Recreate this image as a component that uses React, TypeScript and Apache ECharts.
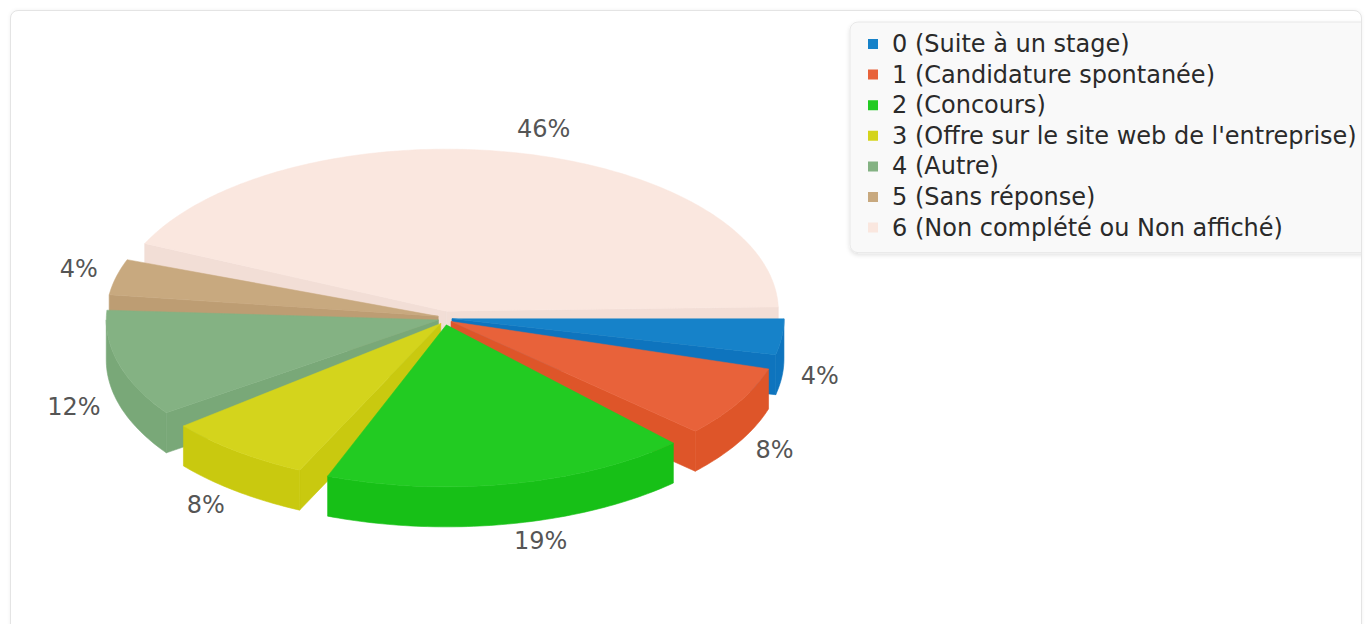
import React, { useEffect, useRef } from "react";
import * as echarts from "echarts";

// ---- data ----
const categories = [
  "0 (Suite à un stage)",
  "1 (Candidature spontanée)",
  "2 (Concours)",
  "3 (Offre sur le site web de l'entreprise)",
  "4 (Autre)",
  "5 (Sans réponse)",
  "6 (Non complété ou Non affiché)",
];
const counts = [1, 2, 5, 2, 3, 1, 12];
const topColors = ["#1682c9", "#e8623a", "#22cb22", "#d4d41c", "#84b283", "#c8a97f", "#fae7df"];
const sideColors = ["#0e74be", "#de5529", "#17c017", "#c9c90f", "#79a878", "#bd9d73", "#f2ded6"];

// ---- geometry (chart coordinates) ----
const CX = 434;
const CY = 307;
const RX = 332;
const RY = 162;
const DEPTH = 40;
const EXPLODE = 7;
const GAP = 4.2; // angular gap between slices
const END_GAP = 1.5; // gap between last and first slice
const START = 0;
const LR = 358; // label horizontal radius (text edge)
const LRY = 190;
const LD_FRONT = 37;
const LD_BACK = -3;
const RAD = Math.PI / 180;

const total = counts.reduce((a, b) => a + b, 0);
const scale = (360 - GAP * (counts.length - 1) - END_GAP) / total;
const slices: { s: number; e: number }[] = [];
{
  let a = START;
  counts.forEach((c) => {
    const s = a;
    const e = a + c * scale;
    slices.push({ s, e });
    a = e + GAP;
  });
}
const depthOrder = slices
  .map((sl, i) => ({ i, v: Math.sin(((sl.s + sl.e) / 2) * RAD) }))
  .sort((a, b) => a.v - b.v)
  .map((o) => o.i);

function makeRender(i: number) {
  return (_params: any, api: any) => {
    const { s, e } = slices[i];
    const m = (s + e) / 2;
    const ox = CX + EXPLODE * Math.cos(m * RAD);
    const oy = CY + EXPLODE * Math.sin(m * RAD);
    const pt = (deg: number, dy = 0) => [ox + RX * Math.cos(deg * RAD), oy + RY * Math.sin(deg * RAD) + dy];
    const arc = (a1: number, a2: number, dy = 0) => {
      const pts: number[][] = [];
      const n = Math.max(2, Math.ceil(Math.abs(a2 - a1)));
      for (let k = 0; k <= n; k++) pts.push(pt(a1 + ((a2 - a1) * k) / n, dy));
      return pts;
    };
    const sideStyle = { fill: sideColors[i], stroke: sideColors[i], lineWidth: 0.6 };
    const children: any[] = [];
    if (Math.cos(s * RAD) < 0) {
      children.push({
        type: "polygon",
        shape: { points: [[ox, oy], pt(s), pt(s, DEPTH), [ox, oy + DEPTH]] },
        style: sideStyle,
      });
    }
    if (Math.cos(e * RAD) > 0) {
      children.push({
        type: "polygon",
        shape: { points: [[ox, oy], pt(e), pt(e, DEPTH), [ox, oy + DEPTH]] },
        style: sideStyle,
      });
    }
    const w1 = Math.max(s, 0);
    const w2 = Math.min(e, 180);
    if (w2 > w1) {
      children.push({
        type: "polygon",
        shape: { points: [...arc(w1, w2), ...arc(w2, w1, DEPTH)] },
        style: sideStyle,
      });
    }
    children.push({
      type: "polygon",
      shape: { points: [[ox, oy], ...arc(s, e)] },
      style: { fill: topColors[i], stroke: topColors[i], lineWidth: 0.5 },
    });
    const val = api.value(0);
    const sm = Math.sin(m * RAD);
    const cm = Math.cos(m * RAD);
    children.push({
      type: "text",
      style: {
        text: Math.round((val / total) * 100) + "%",
        x: CX + LR * cm,
        y: CY + LRY * sm + (sm >= 0 ? LD_FRONT : LD_BACK),
        fill: "#555555",
        fontSize: 24,
        fontFamily: "DejaVu Sans",
        align: cm >= 0 ? "left" : "right",
        verticalAlign: "middle",
      },
    });
    return { type: "group", children };
  };
}

export default function App() {
  const ref = useRef<HTMLDivElement>(null);
  useEffect(() => {
    if (!ref.current) return;
    const chart = echarts.init(ref.current, null, { renderer: "svg" });
    chart.setOption({
      animation: false,
      color: topColors,
      legend: {
        orient: "vertical",
        left: 839,
        top: 11,
        icon: "rect",
        itemWidth: 10,
        itemHeight: 10,
        itemGap: 6.6,
        padding: [10, 70, 13, 18],
        backgroundColor: "#f9f9f9",
        borderColor: "#e8e8e8",
        borderWidth: 1,
        borderRadius: 8,
        shadowBlur: 4,
        shadowColor: "rgba(0,0,0,0.12)",
        shadowOffsetY: 2,
        selectedMode: false,
        textStyle: {
          fontFamily: "DejaVu Sans",
          fontSize: 24,
          color: "#2a2a2a",
          lineHeight: 24,
          padding: [0, 0, 0, 9],
        },
        data: categories,
      },
      series: categories.map((name, i) => ({
        type: "custom",
        name,
        coordinateSystem: "none",
        z: 2 + depthOrder.indexOf(i) * 0.1,
        itemStyle: { color: topColors[i] },
        data: [[counts[i]]],
        renderItem: makeRender(i),
      })),
    });
    return () => chart.dispose();
  }, []);
  return (
    <div
      style={{
        position: "fixed",
        left: 0,
        top: 0,
        width: 1369,
        height: 624,
        overflow: "hidden",
        background: "#fff",
      }}
    >
      <div
        style={{
          position: "absolute",
          left: 10,
          top: 10,
          width: 1352,
          height: 700,
          boxSizing: "border-box",
          border: "1px solid #e4e4e4",
          borderRadius: 8,
          overflow: "hidden",
          boxShadow: "0 0 4px rgba(0,0,0,0.06)",
          background: "#fff",
        }}
      >
        <div ref={ref} style={{ width: 1450, height: 650 }} />
      </div>
    </div>
  );
}
